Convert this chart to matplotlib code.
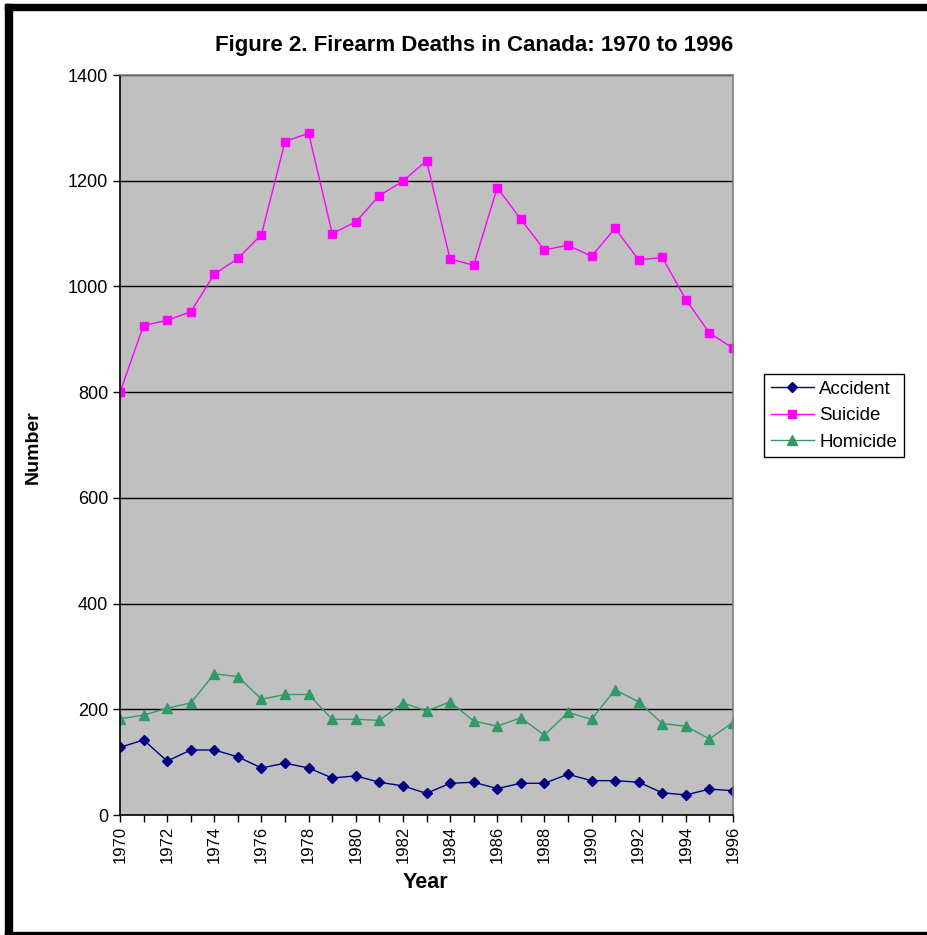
import matplotlib
matplotlib.use('Agg')
import matplotlib.pyplot as plt
from matplotlib.patches import Rectangle

plt.rcParams['font.family'] = ['Liberation Sans', 'DejaVu Sans']

# data
years = list(range(1970, 1997))
accident = [128, 142, 102, 123, 123, 110, 89, 98, 89, 70, 74, 62, 55, 41,
            60, 62, 50, 60, 60, 77, 65, 65, 62, 42, 38, 49, 46]
suicide = [800, 926, 936, 952, 1023, 1053, 1098, 1274, 1290, 1100, 1122, 1172, 1199, 1238,
           1052, 1040, 1187, 1127, 1069, 1078, 1057, 1110, 1050, 1055, 975, 912, 883]
homicide = [182, 189, 202, 212, 267, 262, 219, 228, 228, 181, 181, 179, 212, 197,
            214, 178, 168, 184, 151, 194, 181, 237, 214, 173, 168, 144, 175]
y_ticks = [0, 200, 400, 600, 800, 1000, 1200, 1400]
x_labels = list(range(1970, 1997, 2))

fig = plt.figure(figsize=(9.28, 9.35), dpi=100)
ax = fig.add_axes([120/928, 1 - 815/935, (733 - 120)/928, (815 - 75)/935])
ax.set_facecolor('#C0C0C0')

ax.plot(years, accident, color='#000080', marker='D', markersize=5, linewidth=1, label='Accident')
ax.plot(years, suicide, color='#FF00FF', marker='s', markersize=6, linewidth=1, label='Suicide')
ax.plot(years, homicide, color='#339966', marker='^', markersize=7, linewidth=1, label='Homicide')

ax.set_xlim(1970, 1996)
ax.set_ylim(0, 1400)
ax.set_yticks(y_ticks)
ax.set_xticks(years, minor=True)
ax.set_xticks(x_labels)
ax.set_xticklabels([str(y) for y in x_labels], rotation=90)
ax.tick_params(axis='both', which='both', direction='out', length=5, width=1, color='black',
               labelsize=13)
ax.tick_params(axis='x', labelsize=12, pad=3)
ax.grid(axis='y', color='black', linewidth=1)
ax.set_axisbelow(True)

for s in ['left', 'bottom']:
    ax.spines[s].set_color('black')
    ax.spines[s].set_linewidth(1.2)
for s in ['top', 'right']:
    ax.spines[s].set_color('#808080')
    ax.spines[s].set_linewidth(1.2)

fig.text(474/928, 1 - 45/935, 'Figure 2. Firearm Deaths in Canada: 1970 to 1996',
         ha='center', va='center', fontsize=16, fontweight='bold')
fig.text(33/928, 1 - 447/935, 'Number', rotation=90, ha='center', va='center',
         fontsize=14, fontweight='bold')
fig.text(425/928, 1 - 883/935, 'Year', ha='center', va='center',
         fontsize=15.5, fontweight='bold')

leg = fig.legend(loc='upper left', bbox_to_anchor=(764/928, 1 - 374/935), fontsize=13.5,
                 frameon=True, fancybox=False, edgecolor='black', framealpha=1,
                 borderaxespad=0, handlelength=2.3, labelspacing=0.5, borderpad=0.35,
                 handletextpad=0.3)
leg.get_frame().set_linewidth(1)

# outer border of the picture
fig.patches.append(Rectangle((5/928, 0), 7/928, 1 - 4/935, transform=fig.transFigure,
                             color='black', zorder=10))
fig.patches.append(Rectangle((5/928, 1 - 10/935), 1, 6/935, transform=fig.transFigure,
                             color='black', zorder=10))
fig.patches.append(Rectangle((5/928, 0), 1, 3/935, transform=fig.transFigure,
                             color='black', zorder=10))

fig.savefig('out.png', dpi=100)
